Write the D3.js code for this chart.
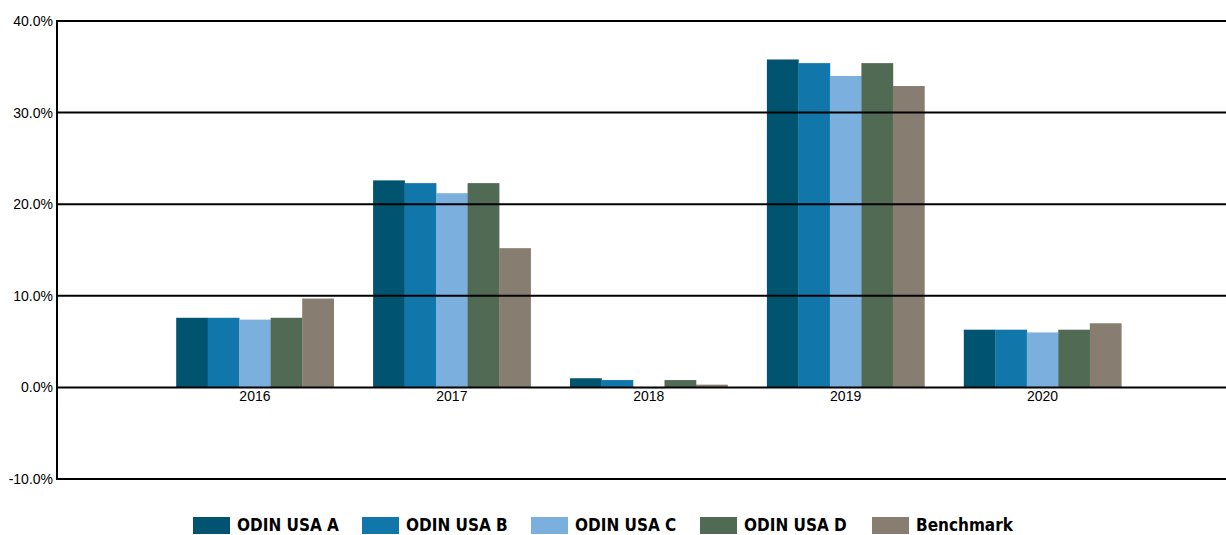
<!DOCTYPE html>
<html><head><meta charset="utf-8">
<script src="https://cdn.jsdelivr.net/npm/d3@7"></script>
<style>
html,body{margin:0;padding:0;background:#fff;}
svg{display:block;}
.tick text{font-family:"Liberation Sans", Arimo, Arial, sans-serif; font-size:14px; fill:#000;}
.legtext{font-family:"Liberation Sans Narrow", "Arial Narrow", "DejaVu Sans Condensed", sans-serif; font-weight:bold; font-size:17px; fill:#000;}
</style></head>
<body>
<svg id="chart" width="1226" height="535"></svg>
<script>
const categories = ["2016","2017","2018","2019","2020"];
const seriesNames = ["ODIN USA A","ODIN USA B","ODIN USA C","ODIN USA D","Benchmark"];
const seriesA = [7.6, 22.6, 1.0, 35.8, 6.3];
const seriesB = [7.6, 22.3, 0.8, 35.4, 6.3];
const seriesC = [7.4, 21.2, -0.1, 34.0, 6.0];
const seriesD = [7.6, 22.3, 0.8, 35.4, 6.3];
const benchmark = [9.7, 15.2, 0.3, 32.9, 7.0];
const yTicks = [-10, 0, 10, 20, 30, 40];
const colors = ["#005470","#1176aa","#7bafdd","#516a54","#877d70"];

(function(){
const allSeries = [seriesA, seriesB, seriesC, seriesD, benchmark];
const svg = d3.select("#chart");
const mLeft = 57, mRight = 1226, mTop = 21, mBottom = 479;

const y = d3.scaleLinear().domain([-10, 40]).range([mBottom, mTop]);
const x0 = d3.scaleBand().domain(categories).range([156.5, 1141]).paddingInner(0.2).paddingOuter(0.1);
const x1 = d3.scaleBand().domain(seriesNames).range([0, x0.bandwidth()]);

const g = svg.append("g");
categories.forEach((c, i) => {
  allSeries.forEach((s, j) => {
    const v = s[i];
    g.append("rect")
      .attr("x", x0(c) + x1(seriesNames[j]))
      .attr("y", y(Math.max(0, v)))
      .attr("width", x1.bandwidth() + 0.3)
      .attr("height", Math.abs(y(v) - y(0)))
      .attr("fill", colors[j]);
  });
});

svg.append("g").selectAll("line").data(yTicks).join("line")
  .attr("x1", mLeft).attr("x2", mRight)
  .attr("y1", d => y(d)).attr("y2", d => y(d))
  .attr("stroke", "#000").attr("stroke-width", 2);

svg.append("line").attr("x1", mLeft).attr("x2", mLeft)
  .attr("y1", mTop - 1).attr("y2", mBottom + 1)
  .attr("stroke", "#000").attr("stroke-width", 2);

const yAxis = d3.axisLeft(y).tickValues(yTicks).tickSize(0).tickPadding(4)
  .tickFormat(d => d.toFixed(1) + "%");
const ya = svg.append("g").attr("transform", `translate(${mLeft},0)`).call(yAxis)
  .attr("font-family", null).attr("font-size", null);
ya.select(".domain").remove();

const xAxis = d3.axisBottom(x0).tickSize(0).tickPadding(4);
const xa = svg.append("g").attr("transform", `translate(0,${y(0)})`).call(xAxis)
  .attr("font-family", null).attr("font-size", null);
xa.select(".domain").remove();

const legX = [193, 362, 531, 700, 872];
const leg = svg.append("g");
seriesNames.forEach((n, j) => {
  leg.append("rect").attr("x", legX[j]).attr("y", 517).attr("width", 37).attr("height", 17).attr("fill", colors[j]);
  leg.append("text").attr("class", "legtext").attr("x", legX[j] + 44).attr("y", 531).text(n);
});
})();
</script>
</body></html>
